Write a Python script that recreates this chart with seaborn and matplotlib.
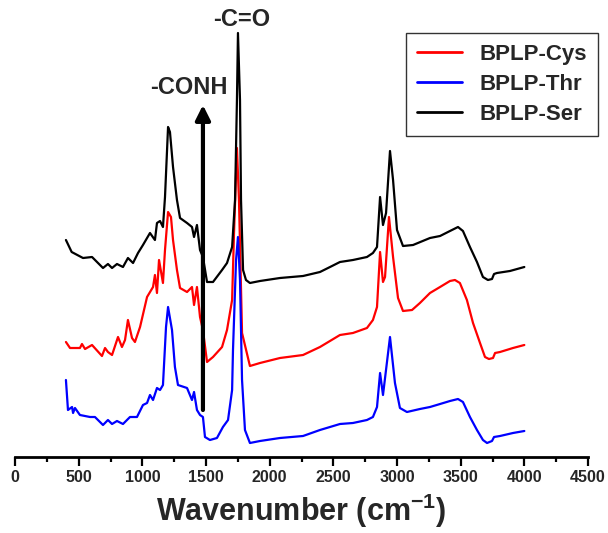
import numpy as np
import pandas as pd
import matplotlib
matplotlib.use("Agg")
import matplotlib.pyplot as plt
import seaborn as sns

# ---------------- data (wavenumber cm^-1, intensity a.u. with offsets) ----------------
ser_x = [400, 445, 534, 605, 691, 730, 762, 801, 848, 887, 927, 966, 1005, 1060, 1099, 1115,
         1139, 1162, 1178, 1202, 1217, 1241, 1272, 1296, 1351, 1390, 1406, 1429, 1453, 1476,
         1508, 1555, 1626, 1665, 1705, 1728, 1743, 1751, 1767, 1775, 1791, 1814, 1845, 1924,
         2081, 2262, 2395, 2474, 2552, 2654, 2764, 2811, 2843, 2867, 2890, 2914, 2945, 2969,
         3000, 3047, 3126, 3259, 3338, 3416, 3479, 3518, 3573, 3628, 3675, 3714, 3746, 3762,
         3785, 3887, 4000]
ser_y = [217, 205, 199, 200, 189, 193, 189, 193, 190, 199, 194, 204, 212, 224, 217, 234,
         236, 230, 260, 330, 325, 290, 257, 239, 234, 230, 220, 232, 207, 200,
         175, 175, 187, 194, 210, 257, 357, 424, 357, 257, 187, 177, 174, 176,
         179, 181, 185, 190, 195, 197, 200, 204, 210, 260, 232, 244, 306, 277,
         227, 211, 212, 219, 221, 226, 230, 226, 210, 195, 180, 177, 178, 183,
         184, 186, 190]

cys_x = [400, 432, 510, 526, 550, 605, 683, 707, 730, 762, 809, 840, 864, 887, 919, 942,
         982, 1037, 1084, 1099, 1115, 1131, 1162, 1178, 1202, 1225, 1241, 1272, 1296, 1351,
         1390, 1406, 1429, 1453, 1476, 1508, 1555, 1626, 1665, 1705, 1720, 1743, 1759, 1783,
         1845, 1924, 2081, 2262, 2395, 2552, 2654, 2764, 2811, 2843, 2867, 2890, 2906, 2937,
         2969, 3008, 3047, 3118, 3180, 3259, 3338, 3416, 3455, 3494, 3549, 3597, 3652, 3691,
         3722, 3754, 3770, 3809, 3911, 4000]
cys_y = [115, 109, 109, 113, 108, 112, 101, 109, 105, 102, 120, 110, 117, 137, 119, 115,
         130, 160, 170, 182, 164, 197, 174, 207, 245, 240, 217, 187, 169, 165,
         170, 152, 170, 140, 127, 95, 100, 110, 127, 157, 224, 309, 257, 124,
         91, 94, 99, 102, 110, 122, 124, 129, 137, 150, 205, 175, 180, 240,
         200, 159, 146, 147, 154, 164, 170, 176, 177, 174, 157, 134, 114, 100,
         98, 99, 104, 105, 109, 112]

thr_x = [400, 416, 448, 456, 471, 510, 589, 628, 691, 730, 762, 801, 848, 903, 958, 1005,
         1037, 1060, 1084, 1115, 1139, 1162, 1186, 1202, 1233, 1256, 1280, 1351, 1390, 1406,
         1429, 1453, 1476, 1492, 1531, 1586, 1633, 1673, 1705, 1712, 1736, 1751, 1767, 1783,
         1806, 1845, 1924, 2081, 2262, 2395, 2552, 2654, 2764, 2811, 2843, 2867, 2890, 2945,
         2984, 3023, 3078, 3180, 3259, 3338, 3416, 3479, 3518, 3573, 3628, 3675, 3707, 3746,
         3762, 3809, 3911, 4000]
thr_y = [77, 47, 50, 44, 49, 42, 40, 40, 32, 37, 33, 36, 33, 40, 40, 52,
         54, 62, 57, 69, 67, 72, 130, 150, 127, 90, 72, 69, 57, 65,
         47, 42, 40, 20, 17, 19, 30, 37, 67, 107, 197, 220, 177, 77,
         27, 14, 16, 19, 21, 27, 33, 34, 37, 40, 50, 84, 62, 120,
         74, 49, 45, 48, 50, 53, 56, 58, 55, 40, 27, 17, 14, 16,
         20, 21, 24, 26]

labels = ["BPLP-Cys", "BPLP-Thr", "BPLP-Ser"]
colors = ["#ff0000", "#0000ff", "#000000"]

df = pd.concat([
    pd.DataFrame({"Wavenumber": cys_x, "Intensity": cys_y, "Sample": labels[0]}),
    pd.DataFrame({"Wavenumber": thr_x, "Intensity": thr_y, "Sample": labels[1]}),
    pd.DataFrame({"Wavenumber": ser_x, "Intensity": ser_y, "Sample": labels[2]}),
], ignore_index=True)

# ---------------- style ----------------
sns.set_style("white")
plt.rcParams["font.family"] = ["Liberation Sans", "DejaVu Sans"]
plt.rcParams["font.weight"] = "bold"
plt.rcParams["mathtext.fontset"] = "custom"
plt.rcParams["mathtext.rm"] = "Liberation Sans:bold"
plt.rcParams["mathtext.bf"] = "Liberation Sans:bold"
plt.rcParams["mathtext.default"] = "bf"

fig = plt.figure(figsize=(6.08, 5.33), dpi=100)
ax = fig.add_axes([15 / 608, 76 / 533, 573 / 608, 457 / 533])

sns.lineplot(data=df, x="Wavenumber", y="Intensity", hue="Sample", hue_order=labels,
             palette=colors, sort=False, estimator=None, lw=1.6, ax=ax)
for ln in ax.get_lines():
    ln.set_solid_joinstyle("round")

ax.set_xlim(0, 4500)
ax.set_ylim(0, 457)
ax.set_xticks(np.arange(0, 4501, 500))
ax.set_xticks(np.arange(250, 4500, 500), minor=True)
ax.set_yticks([])
for s in ["top", "right", "left"]:
    ax.spines[s].set_visible(False)
ax.spines["bottom"].set_linewidth(2.0)
ax.spines["bottom"].set_color("black")
ax.tick_params(axis="x", which="major", direction="out", length=6.5, width=1.6,
               labelsize=11.5, color="black", pad=3, bottom=True)
ax.tick_params(axis="x", which="minor", direction="out", length=3.5, width=1.6,
               color="black", bottom=True)
for t in ax.get_xticklabels():
    t.set_fontweight("bold")
ax.set_ylabel("")
ax.set_xlabel("Wavenumber (cm$^{-1}$)", fontsize=22, fontweight="bold", labelpad=5)

# arrow and annotations
ax.annotate("", xy=(1476, 352), xytext=(1476, 47),
            arrowprops=dict(arrowstyle="-|>", lw=3, color="black", mutation_scale=22,
                            shrinkA=0, shrinkB=0))
ax.text(1366, 369, "-CONH", fontsize=17, fontweight="bold", ha="center", va="center")
ax.text(1783, 437, "-C=O", fontsize=17, fontweight="bold", ha="center", va="center")

leg = ax.legend(loc="upper right", bbox_to_anchor=(598 / 608, 1 - 33 / 533),
                bbox_transform=fig.transFigure, borderaxespad=0, frameon=True,
                fancybox=False, edgecolor="black", handlelength=2.0,
                prop={"weight": "bold", "size": 16}, title=None,
                borderpad=0.5, labelspacing=0.4, handletextpad=0.8)
leg.get_frame().set_linewidth(1.0)
for h in leg.get_lines():
    h.set_linewidth(2.0)

fig.savefig("out.png", dpi=100)
